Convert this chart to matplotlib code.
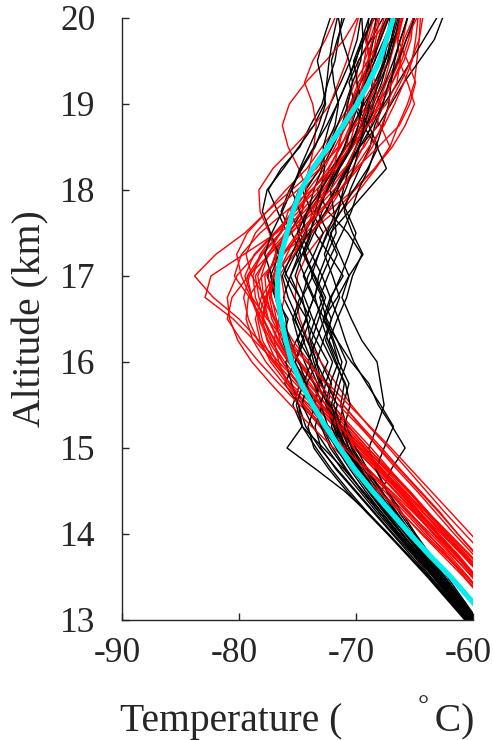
import numpy as np
import matplotlib
matplotlib.use("Agg")
import matplotlib.pyplot as plt
import matplotlib.transforms as mtransforms

# altitude grid of the soundings (km)
altitude = np.arange(13.0, 20.001, 0.25)

# temperature profiles (deg C), one list per sounding
red_profiles = [
    [-55.0,-56.8,-58.5,-60.2,-62.0,-63.8,-65.5,-67.4,-69.3,-71.2,-73.0,-74.9,-76.6,-78.3,-80.0,-82.2,-83.8,-82.0,-79.5,-77.6,-76.0,-74.2,-72.9,-71.6,-70.5,-69.8,-68.7,-67.9,-67.2],
    [-55.6,-57.3,-59.0,-60.6,-62.4,-64.0,-65.9,-67.8,-69.7,-71.6,-73.4,-75.2,-76.9,-78.7,-80.5,-82.9,-82.4,-79.6,-76.8,-74.9,-73.8,-72.1,-70.9,-69.2,-68.0,-67.1,-66.3,-66.0,-65.6],
    [-54.2,-55.9,-57.5,-59.0,-60.7,-62.4,-64.0,-65.6,-67.2,-68.9,-70.4,-71.7,-73.0,-74.1,-74.8,-75.2,-75.0,-74.2,-72.8,-71.3,-69.7,-68.3,-67.1,-66.4,-65.6,-65.0,-64.8,-64.6,-64.5],
    [-56.9,-58.4,-59.9,-61.5,-63.3,-64.9,-66.6,-68.4,-70.1,-71.8,-73.7,-75.6,-77.1,-78.4,-79.2,-79.6,-79.1,-78.0,-76.4,-75.8,-74.5,-73.0,-71.5,-71.0,-70.3,-69.2,-68.4,-68.1,-67.6],
    [-57.3,-58.8,-60.4,-62.0,-63.9,-65.6,-67.3,-68.9,-70.6,-72.3,-74.0,-75.9,-77.3,-78.2,-78.6,-78.1,-77.0,-75.6,-74.3,-72.4,-70.2,-68.4,-67.1,-67.9,-69.3,-70.0,-69.8,-68.8,-68.2],
    [-56.0,-57.6,-59.2,-60.7,-62.3,-63.8,-65.4,-67.2,-69.0,-70.7,-72.3,-73.6,-74.9,-75.9,-76.8,-77.2,-77.5,-76.9,-75.6,-73.6,-71.9,-70.3,-69.4,-68.7,-68.1,-67.4,-66.5,-65.9,-65.1],
    [-57.8,-59.1,-60.7,-62.3,-64.1,-65.8,-67.6,-69.4,-71.2,-72.9,-74.4,-75.7,-76.8,-77.6,-78.0,-77.7,-77.0,-76.8,-77.4,-78.2,-78.3,-77.1,-75.3,-73.6,-72.2,-71.5,-70.8,-70.3,-69.8],
    [-55.3,-57.0,-58.6,-60.3,-62.1,-63.9,-65.6,-67.3,-69.0,-70.6,-72.0,-73.6,-75.0,-76.3,-77.2,-77.6,-77.8,-76.4,-74.0,-71.8,-70.1,-68.4,-66.9,-65.8,-65.0,-65.6,-66.3,-65.7,-64.8],
    [-56.6,-58.2,-59.7,-61.2,-62.9,-64.5,-66.1,-67.8,-69.4,-71.1,-72.9,-74.6,-76.1,-77.3,-78.2,-78.9,-79.3,-78.1,-76.5,-74.4,-72.8,-71.6,-70.6,-70.1,-69.5,-68.4,-67.2,-66.6,-66.0],
    [-57.1,-58.6,-60.1,-61.7,-63.4,-65.0,-66.7,-68.4,-70.2,-71.9,-73.5,-75.0,-76.3,-77.2,-77.9,-77.6,-76.8,-75.9,-75.0,-74.6,-74.2,-74.9,-75.8,-76.3,-75.7,-74.3,-72.6,-71.0,-69.9],
    [-55.8,-57.5,-59.1,-60.8,-62.6,-64.3,-66.0,-67.7,-69.4,-71.2,-72.6,-73.9,-75.4,-76.6,-77.5,-78.3,-78.6,-77.4,-75.8,-74.1,-72.6,-71.0,-69.3,-68.2,-67.9,-68.6,-69.3,-68.5,-67.3],
    [-56.3,-57.9,-59.6,-61.4,-63.3,-65.1,-67.0,-69.0,-71.0,-72.9,-74.8,-76.6,-78.3,-79.8,-81.0,-80.6,-79.2,-77.4,-75.5,-73.9,-72.9,-72.3,-71.4,-70.2,-69.0,-68.1,-67.7,-67.5,-67.0],
    [-57.6,-59.2,-60.8,-62.6,-64.4,-66.1,-67.9,-69.6,-71.5,-73.1,-74.6,-75.9,-76.6,-77.0,-76.6,-76.1,-76.4,-76.9,-76.1,-74.7,-73.1,-71.8,-70.5,-69.0,-67.4,-66.5,-66.2,-66.5,-66.1],
    [-54.8,-56.5,-58.1,-59.7,-61.3,-62.8,-64.5,-66.2,-67.8,-69.5,-71.1,-72.6,-74.0,-75.4,-76.5,-77.3,-77.0,-75.6,-73.8,-72.4,-71.3,-70.0,-68.1,-66.3,-65.4,-64.9,-65.6,-66.4,-66.0],
    [-56.1,-57.6,-59.2,-60.9,-62.7,-64.6,-66.4,-68.2,-70.0,-71.5,-73.0,-74.5,-75.8,-77.0,-77.9,-78.6,-78.8,-78.2,-76.9,-75.4,-74.1,-72.7,-71.8,-70.8,-69.7,-68.9,-68.0,-67.0,-66.5],
    [-56.7,-58.2,-59.8,-61.5,-63.1,-64.8,-66.4,-68.1,-69.8,-71.6,-73.3,-74.9,-76.3,-77.5,-78.3,-79.0,-79.8,-80.2,-79.3,-77.6,-75.5,-73.4,-72.0,-71.1,-70.2,-69.3,-68.6,-68.3,-68.0],
    [-57.4,-59.0,-60.5,-62.2,-63.8,-65.4,-67.1,-68.9,-70.8,-72.6,-74.2,-75.7,-77.0,-78.0,-78.4,-77.8,-76.6,-75.3,-74.3,-73.7,-73.0,-71.9,-70.8,-70.5,-70.8,-70.1,-69.0,-68.0,-67.3],
    [-55.9,-57.5,-59.1,-60.8,-62.5,-64.2,-65.8,-67.5,-69.2,-70.9,-72.5,-74.1,-75.6,-76.7,-77.5,-77.9,-78.1,-77.5,-76.5,-75.5,-74.6,-74.0,-73.6,-73.4,-73.7,-74.4,-73.7,-72.6,-71.8],
    [-56.5,-58.1,-59.8,-61.4,-63.0,-64.7,-66.3,-68.0,-69.6,-71.3,-72.9,-74.3,-75.7,-76.9,-78.0,-79.1,-80.4,-79.8,-78.2,-76.0,-73.8,-72.0,-70.4,-69.6,-69.0,-68.4,-68.8,-69.2,-68.6],
    [-55.5,-57.2,-58.8,-60.5,-62.2,-63.9,-65.5,-67.1,-68.7,-70.4,-72.0,-73.5,-74.8,-75.8,-76.4,-76.9,-77.1,-76.3,-75.0,-73.2,-71.4,-70.1,-68.9,-67.6,-66.7,-65.9,-65.2,-64.9,-64.7],
    [-53.8,-55.4,-57.0,-58.6,-60.2,-61.9,-63.6,-65.3,-67.0,-68.8,-70.6,-72.4,-74.2,-76.0,-77.6,-78.9,-79.5,-78.7,-77.0,-75.2,-73.4,-71.8,-70.3,-69.0,-67.8,-66.9,-66.1,-65.5,-65.0],
    [-57.0,-58.7,-60.5,-62.4,-64.3,-66.2,-68.1,-70.0,-71.9,-73.8,-75.6,-77.3,-78.9,-80.1,-80.8,-81.0,-80.2,-78.6,-76.9,-75.3,-73.7,-72.4,-71.3,-70.5,-69.9,-69.4,-69.0,-68.6,-68.1],
    [-55.2,-56.7,-58.3,-59.9,-61.6,-63.2,-64.8,-66.5,-68.1,-69.6,-71.1,-72.6,-74.2,-75.7,-77.0,-78.0,-78.4,-77.6,-76.0,-74.0,-72.2,-70.9,-70.0,-69.4,-68.3,-66.9,-65.9,-65.3,-65.1],
    [-56.4,-58.1,-59.7,-61.3,-63.0,-64.6,-66.2,-67.9,-69.6,-71.4,-73.1,-74.5,-75.7,-76.5,-76.9,-77.8,-78.9,-79.4,-78.6,-77.0,-75.0,-73.1,-71.5,-70.0,-68.6,-67.6,-67.1,-66.6,-66.2],
    [-54.6,-56.3,-58.0,-59.6,-61.3,-62.9,-64.6,-66.3,-68.0,-69.7,-71.5,-73.2,-74.8,-76.1,-77.0,-77.4,-77.1,-76.2,-74.7,-73.0,-71.3,-69.8,-68.6,-67.8,-67.1,-66.2,-65.3,-64.6,-64.3],
    [-56.8,-58.3,-60.0,-61.8,-63.6,-65.5,-67.3,-69.2,-71.0,-72.8,-74.5,-76.2,-77.7,-78.8,-79.4,-79.2,-78.0,-76.3,-74.6,-73.4,-72.6,-71.9,-71.5,-71.2,-70.4,-69.6,-69.3,-69.0,-68.5],
]

black_profiles = [
    [-60.3,-61.8,-63.3,-64.8,-66.3,-67.8,-69.4,-71.0,-72.8,-74.6,-75.4,-74.8,-75.6,-76.3,-75.8,-76.9,-77.6,-76.8,-75.9,-76.7,-77.5,-76.4,-74.8,-73.9,-72.9,-72.4,-71.8,-71.5,-71.2],
    [-59.9,-61.3,-62.7,-64.1,-65.5,-66.9,-68.3,-69.6,-70.9,-71.8,-72.4,-72.1,-73.0,-73.8,-73.2,-72.6,-73.5,-74.4,-73.6,-72.5,-71.8,-70.9,-70.0,-69.1,-68.5,-67.8,-67.3,-66.9,-66.4],
    [-60.1,-61.5,-62.9,-64.3,-65.6,-66.7,-67.8,-67.0,-65.8,-66.9,-68.1,-68.9,-70.4,-71.6,-72.8,-72.2,-71.1,-72.3,-73.5,-72.9,-71.8,-70.6,-70.0,-69.4,-68.6,-68.1,-67.5,-66.8,-66.0],
    [-60.6,-62.2,-63.8,-65.5,-67.2,-69.0,-71.0,-73.4,-75.9,-74.6,-74.9,-76.1,-75.2,-74.4,-75.3,-76.2,-75.6,-74.7,-75.5,-76.4,-75.7,-74.6,-73.5,-72.8,-72.2,-71.3,-70.5,-69.9,-69.6],
    [-59.7,-61.1,-62.4,-63.7,-65.0,-66.3,-67.4,-68.3,-68.9,-68.2,-67.6,-67.9,-68.2,-69.5,-70.4,-71.2,-70.6,-69.4,-70.3,-71.0,-70.5,-69.7,-68.8,-68.4,-67.6,-66.4,-65.3,-64.2,-63.1],
    [-60.4,-61.9,-63.4,-64.9,-66.5,-68.0,-69.5,-70.8,-72.0,-72.9,-73.5,-73.1,-73.8,-74.9,-75.4,-74.8,-75.9,-76.6,-75.7,-74.6,-74.3,-73.1,-72.4,-71.6,-70.9,-70.3,-69.6,-69.4,-69.5],
    [-60.0,-61.4,-62.8,-64.2,-65.6,-67.0,-68.3,-69.5,-70.6,-71.4,-71.1,-70.6,-71.5,-72.3,-71.6,-70.8,-70.3,-69.5,-70.7,-72.4,-73.3,-72.1,-70.8,-69.5,-68.9,-68.6,-68.8,-69.1,-68.9],
    [-59.8,-61.2,-62.5,-63.9,-65.3,-66.6,-67.9,-69.1,-70.3,-71.3,-72.2,-73.0,-73.6,-74.1,-73.5,-72.8,-73.6,-74.5,-73.8,-72.6,-71.6,-70.8,-69.7,-68.1,-67.0,-65.9,-64.6,-63.3,-62.6],
    [-60.2,-61.7,-63.2,-64.6,-66.1,-67.6,-69.0,-70.3,-71.5,-72.6,-73.6,-73.2,-72.4,-73.4,-74.3,-73.6,-72.9,-73.8,-74.8,-75.6,-74.9,-73.6,-72.6,-71.8,-71.5,-71.9,-72.1,-71.6,-71.0],
    [-59.6,-60.9,-62.2,-63.6,-64.9,-66.1,-67.3,-68.3,-67.6,-66.8,-67.9,-69.1,-70.2,-70.9,-71.5,-72.2,-72.9,-72.1,-71.2,-70.4,-69.8,-68.9,-68.3,-67.7,-67.2,-67.0,-66.7,-66.2,-65.6],
    [-60.5,-62.0,-63.6,-65.1,-66.8,-68.4,-70.0,-71.6,-73.1,-74.3,-74.9,-75.5,-76.0,-75.1,-74.2,-75.3,-76.1,-75.2,-74.0,-73.2,-72.5,-71.8,-71.0,-70.4,-69.8,-69.3,-68.9,-68.5,-68.3],
    [-60.1,-61.6,-63.0,-64.5,-66.0,-67.4,-68.8,-70.1,-71.3,-71.9,-72.4,-73.3,-74.1,-73.4,-72.7,-73.7,-74.5,-73.6,-72.8,-73.8,-74.6,-73.7,-72.3,-71.1,-70.4,-69.6,-68.7,-68.1,-67.4],
    [-59.9,-61.3,-62.8,-64.3,-65.8,-67.3,-68.6,-69.8,-70.9,-71.7,-72.3,-72.9,-73.4,-73.9,-74.2,-74.6,-74.1,-73.2,-72.4,-71.3,-70.2,-69.0,-68.1,-68.9,-70.1,-70.6,-69.8,-68.7,-67.7],
    [-60.3,-61.8,-63.3,-64.9,-66.4,-68.0,-69.5,-70.9,-72.2,-73.0,-73.6,-74.2,-74.9,-75.6,-76.3,-76.9,-77.3,-76.6,-77.3,-78.0,-77.6,-76.2,-74.9,-73.6,-72.7,-72.5,-72.3,-72.0,-71.6],
    [-59.7,-61.0,-62.4,-63.8,-65.2,-66.5,-67.8,-69.0,-70.0,-70.8,-71.3,-71.0,-71.7,-72.4,-73.0,-73.5,-73.2,-72.5,-71.7,-71.9,-72.2,-71.4,-70.3,-69.6,-69.1,-68.4,-67.6,-67.3,-67.1],
    [-60.6,-62.2,-63.7,-65.3,-66.9,-68.5,-70.1,-71.7,-73.0,-73.5,-72.9,-73.6,-74.4,-75.0,-74.3,-73.6,-74.4,-75.1,-74.4,-73.4,-72.4,-71.5,-70.5,-69.8,-69.4,-69.2,-68.4,-67.6,-66.8],
    [-60.0,-61.5,-62.9,-64.4,-65.8,-67.2,-68.6,-69.8,-71.0,-71.9,-72.6,-72.2,-71.5,-72.0,-72.8,-71.6,-70.6,-71.4,-72.2,-70.6,-69.0,-67.4,-68.2,-69.4,-70.2,-69.6,-68.6,-67.9,-67.2],
    [-60.2,-61.6,-63.1,-64.6,-66.1,-67.5,-68.9,-70.2,-71.4,-72.4,-73.0,-72.6,-72.0,-72.9,-73.7,-74.4,-75.2,-74.6,-73.9,-73.5,-73.0,-72.7,-72.8,-72.3,-71.6,-70.8,-70.0,-69.5,-68.9],
    [-59.8,-61.2,-62.6,-64.0,-65.4,-66.8,-68.1,-69.3,-70.4,-71.0,-70.5,-70.9,-71.8,-72.6,-72.1,-71.4,-72.0,-72.7,-72.1,-71.5,-71.1,-70.6,-69.8,-69.0,-68.3,-67.5,-66.8,-66.2,-65.6],
    [-60.4,-61.9,-63.4,-65.0,-66.6,-68.2,-69.7,-71.2,-72.5,-73.7,-74.6,-74.2,-73.3,-74.2,-75.0,-75.8,-76.3,-75.5,-74.7,-74.1,-73.6,-72.9,-72.0,-71.2,-70.7,-70.3,-70.6,-71.2,-71.5],
    [-60.5,-62.1,-63.8,-65.5,-67.3,-69.1,-70.8,-72.3,-73.6,-74.1,-73.5,-74.3,-75.2,-74.6,-73.9,-74.8,-75.6,-74.9,-74.2,-74.8,-75.5,-74.7,-73.6,-72.5,-71.6,-70.8,-70.1,-69.3,-68.6],
    [-59.9,-61.4,-62.8,-64.2,-65.7,-67.1,-68.4,-69.6,-70.6,-71.3,-71.9,-71.4,-70.8,-71.6,-72.5,-73.1,-72.4,-71.6,-72.4,-73.3,-72.6,-71.5,-70.4,-69.8,-69.5,-69.9,-70.2,-69.5,-68.4],
    [-60.3,-61.7,-63.2,-64.7,-66.3,-67.8,-69.2,-70.5,-71.7,-72.8,-73.9,-74.7,-75.3,-75.8,-76.0,-76.6,-77.2,-77.8,-77.2,-76.3,-75.5,-74.8,-74.0,-73.2,-72.6,-72.9,-73.3,-72.8,-72.2],
    [-60.0,-61.4,-62.9,-64.3,-65.7,-67.1,-68.5,-69.7,-70.8,-71.6,-72.1,-71.7,-71.2,-71.9,-72.6,-72.1,-71.3,-70.6,-70.0,-70.8,-71.6,-70.7,-69.7,-68.6,-67.7,-67.2,-66.4,-65.7,-65.0],
    [-60.7,-62.3,-63.9,-65.6,-67.3,-69.0,-70.6,-72.1,-73.4,-74.6,-75.1,-74.5,-73.8,-74.5,-75.2,-74.6,-73.7,-74.3,-75.0,-74.2,-73.0,-71.9,-71.0,-70.3,-69.3,-68.2,-67.5,-67.0,-66.6],
    [-59.8,-61.3,-62.7,-64.2,-65.6,-67.1,-68.6,-70.0,-71.3,-72.1,-71.6,-72.5,-73.4,-72.8,-72.1,-72.9,-73.8,-73.2,-72.5,-71.7,-70.9,-70.2,-69.7,-69.3,-68.8,-68.0,-67.2,-66.7,-66.3],
]

# mean profile
mean_alt = [13.0, 13.25, 13.5, 13.75, 14.0, 14.25, 14.5, 14.75, 15.0, 15.25, 15.5, 15.75, 16.0, 16.25,
            16.5, 16.75, 17.0, 17.25, 17.5, 17.75, 18.0, 18.25, 18.5, 18.75, 19.0, 19.25, 19.5, 19.75, 20.0]
mean_temp = [-58.7, -60.3, -61.9, -63.7, -65.4, -67.0, -68.6, -70.1, -71.4, -72.6, -73.7, -74.7, -75.5, -76.0,
             -76.4, -76.7, -76.7, -76.4, -75.9, -75.4, -74.7, -73.7, -72.4, -71.1, -69.9, -68.9, -68.0, -67.4, -66.8]

plt.rcParams['font.family'] = ['Liberation Serif', 'DejaVu Serif']
plt.rcParams['axes.unicode_minus'] = False

fig = plt.figure(figsize=(4.93, 7.4), dpi=100)
ax = fig.add_axes([0.2475, 0.1622, 0.7119, 0.8135])

for r, b in zip(red_profiles, black_profiles):
    ax.plot(r, altitude, color='#ff0000', lw=1.0)
    ax.plot(b, altitude, color='#000000', lw=1.0)
ax.plot(mean_temp, mean_alt, color='#00eeee', lw=3.8, solid_capstyle='butt')

ax.set_xlim(-90, -60)
ax.set_ylim(13, 20)
ax.set_xticks([-90, -80, -70, -60])
ax.set_yticks(np.arange(13, 21, 1))

for s in ['top', 'right']:
    ax.spines[s].set_visible(False)
for s in ['left', 'bottom']:
    ax.spines[s].set_color('#262626')
    ax.spines[s].set_linewidth(1.0)

ax.tick_params(direction='in', length=5, width=1.0, colors='#262626', labelsize=25.5)
ax.tick_params(axis='x', pad=12)
ax.tick_params(axis='y', pad=19)

# x tick labels sit a little left of their ticks
shift = mtransforms.ScaledTranslation(-5 / 100, 0, fig.dpi_scale_trans)
for lab in ax.get_xticklabels():
    lab.set_transform(lab.get_transform() + shift)

xlab = ax.set_xlabel('Temperature (\u2003\u2003\u200a C)', fontsize=28.5, color='#262626', labelpad=24)
ax.set_ylabel('Altitude (km)', fontsize=28.5, color='#262626', labelpad=8)
# raised degree ring in front of the C
ax.annotate('\u00b0', xy=(0.855, 1.0), xycoords=xlab, xytext=(0, 6),
            textcoords='offset points', ha='center', va='top',
            fontsize=20, color='#262626')

fig.savefig('out.png', dpi=100)
